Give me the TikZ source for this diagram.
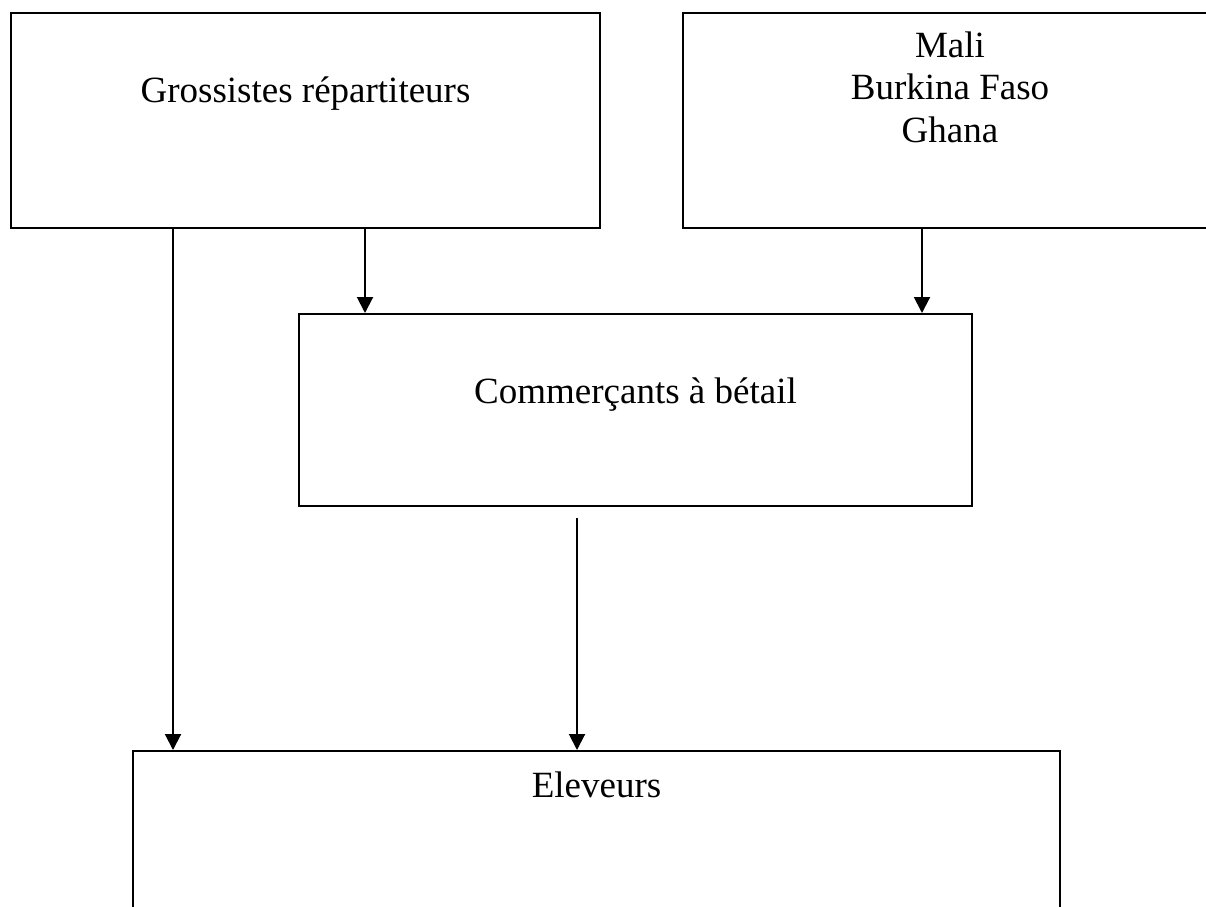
\documentclass[tikz,border=0pt]{standalone}
\usepackage{fontspec}
\setmainfont{Liberation Serif}
\usetikzlibrary{arrows.meta}
\begin{document}
\begin{tikzpicture}[x=1pt,y=-1pt,
  box/.style={draw=black,line width=2pt,rectangle,inner sep=0pt},
  lbl/.style={anchor=base,inner sep=0pt,font=\fontsize{37}{42.5}\selectfont},
  arr/.style={line width=2pt,-{Triangle[width=16pt,length=16pt]}}]
\useasboundingbox (0,0) rectangle (1206,906);
\clip (0,0) rectangle (1206,906);
\node[box,minimum width=589pt,minimum height=215pt] (A) at (305.5,120.5) {};
\node[box,minimum width=534pt,minimum height=215pt] (B) at (950,120.5) {};
\node[box,minimum width=673pt,minimum height=192pt] (C) at (635.5,410) {};
\node[box,minimum width=927pt,minimum height=220pt] (D) at (596.5,861) {};
\node[lbl] (tA) at (305.5,102) {Grossistes répartiteurs};
\node[lbl] (tB1) at (950,57) {Mali};
\node[lbl] (tB2) at (950,99.5) {Burkina Faso};
\node[lbl] (tB3) at (950,142) {Ghana};
\node[lbl] (tC) at (635.5,403) {Commerçants à bétail};
\node[lbl] (tD) at (596.5,797) {Eleveurs};
\coordinate (x1) at (365,0);
\coordinate (x2) at (922,0);
\coordinate (x3) at (173,0);
\coordinate (s4) at (577,518);
\draw[arr] (A.south -| x1) -- (C.north -| x1);
\draw[arr] (B.south -| x2) -- (C.north -| x2);
\draw[arr] (A.south -| x3) -- (D.north -| x3);
\draw[arr] (s4) -- (D.north -| s4);
\end{tikzpicture}
\end{document}
